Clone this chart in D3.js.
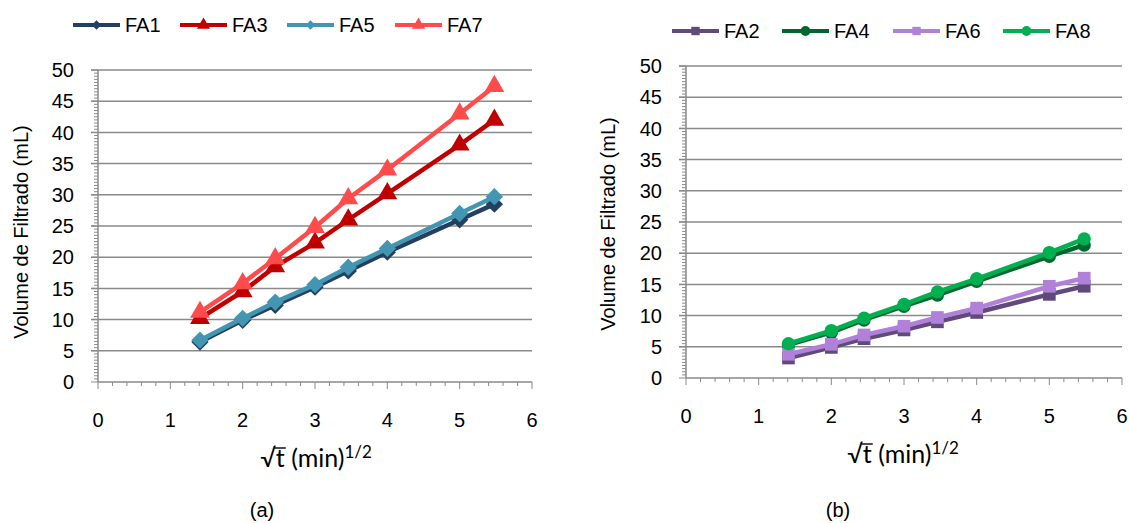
<!DOCTYPE html>
<html>
<head>
<meta charset="utf-8">
<script src="https://cdn.jsdelivr.net/npm/d3@7"></script>
<style>
  body { margin: 0; background: #fff; }
  svg { display: block; }
  text { font-family: "Liberation Sans", Arial, sans-serif; fill: #000; }
</style>
</head>
<body>
<script>
const width = 1129;
const height = 523;

// x = square root of time (min^1/2)
const sqrtT = [1.41, 2, 2.45, 3, 3.46, 4, 5, 5.48];

// panel (a)
const fa1 = [6.4, 9.9, 12.3, 15.2, 17.8, 20.8, 26.0, 28.5];
const fa3 = [10.2, 14.5, 18.5, 22.3, 26.0, 30.2, 38.0, 42.0];
const fa5 = [6.7, 10.2, 12.8, 15.6, 18.4, 21.4, 27.0, 29.7];
const fa7 = [11.2, 15.8, 19.8, 24.8, 29.4, 34.0, 43.0, 47.4];

// panel (b)
const fa2 = [3.2, 4.9, 6.3, 7.7, 9.0, 10.5, 13.4, 14.7];
const fa4 = [5.3, 7.3, 9.3, 11.5, 13.3, 15.5, 19.5, 21.3];
const fa6 = [3.8, 5.4, 6.9, 8.3, 9.7, 11.2, 14.7, 16.0];
const fa8 = [5.5, 7.6, 9.6, 11.8, 13.8, 15.9, 20.1, 22.3];

const xTicks = [0, 1, 2, 3, 4, 5, 6];
const yTicks = [0, 5, 10, 15, 20, 25, 30, 35, 40, 45, 50];

const svg = d3.select('body').append('svg')
  .attr('width', width)
  .attr('height', height);

const gridColor = '#8a8a8a';

function drawPanel(p) {
  const x = d3.scaleLinear().domain([0, 6]).range([p.left, p.right]);
  const y = d3.scaleLinear().domain([0, 50]).range([p.bottom, p.top]);
  const g = svg.append('g');

  // gridlines
  g.selectAll('.grid')
    .data(yTicks.filter(v => v > 0))
    .enter().append('line')
      .attr('x1', p.left - 7).attr('x2', p.right)
      .attr('y1', d => y(d)).attr('y2', d => y(d))
      .attr('stroke', gridColor)
      .attr('stroke-width', 1.5);

  // y axis: minor ticks every 0.5, major every 5
  const yAxis = g.append('g').attr('transform', `translate(${p.left},0)`);
  yAxis.selectAll('line.minor')
    .data(d3.range(0, 50.01, 0.5))
    .enter().append('line')
      .attr('x1', d => d % 5 === 0 ? -7 : -4).attr('x2', 0)
      .attr('y1', d => y(d)).attr('y2', d => y(d))
      .attr('stroke', gridColor)
      .attr('stroke-width', 1);
  yAxis.append('line')
    .attr('y1', p.top).attr('y2', p.bottom)
    .attr('stroke', gridColor).attr('stroke-width', 1.5);
  yAxis.selectAll('text')
    .data(yTicks)
    .enter().append('text')
      .attr('x', -24)
      .attr('y', d => y(d))
      .attr('dy', '0.36em')
      .attr('text-anchor', 'end')
      .style('font-size', '20px')
      .text(d => d);

  // x axis: minor ticks every 0.2
  const xAxis = g.append('g').attr('transform', `translate(0,${p.bottom})`);
  xAxis.selectAll('line.minor')
    .data(d3.range(0, 30.5, 1))
    .enter().append('line')
      .attr('x1', d => x(d / 5)).attr('x2', d => x(d / 5))
      .attr('y1', 0).attr('y2', d => d % 5 === 0 ? 7 : 4)
      .attr('stroke', gridColor)
      .attr('stroke-width', 1);
  xAxis.append('line')
    .attr('x1', p.left).attr('x2', p.right)
    .attr('stroke', gridColor).attr('stroke-width', 1.5);
  xAxis.selectAll('text')
    .data(xTicks)
    .enter().append('text')
      .attr('x', d => x(d))
      .attr('y', 45)
      .attr('text-anchor', 'middle')
      .style('font-size', '20px')
      .text(d => d);

  // axis titles
  g.append('text')
    .attr('transform', `translate(${p.yTitleX},${p.yTitleY}) rotate(-90)`)
    .attr('text-anchor', 'middle')
    .attr('dy', '0.36em')
    .style('font-size', '20px')
    .text('Volume de Filtrado (mL)');

  const titleY = p.bottom + 85;
  const xt = g.append('text')
    .attr('x', p.xTitleX)
    .attr('y', titleY)
    .attr('text-anchor', 'middle')
    .style('font-family', 'Lato, "Open Sans", sans-serif')
    .style('font-size', '25px');
  xt.append('tspan').text('√t');
  xt.append('tspan').text(' (min)');
  xt.append('tspan').attr('dy', -9).style('font-size', '17px').text('1/2');

  // bar over the t under the radical
  const node = xt.node();
  const r0 = node.getEndPositionOfChar(0);
  const r1 = node.getEndPositionOfChar(1);
  g.append('line')
    .attr('x1', r0.x - 1).attr('x2', r1.x + 1)
    .attr('y1', titleY - 19).attr('y2', titleY - 19)
    .attr('stroke', '#000')
    .attr('stroke-width', 1.4);

  g.append('text')
    .attr('x', p.capX)
    .attr('y', 517)
    .attr('text-anchor', 'middle')
    .style('font-size', '20px')
    .text(p.caption);

  // series
  const line = d3.line()
    .x((d, i) => x(sqrtT[i]))
    .y(d => y(d));

  p.series.forEach(s => {
    g.append('path')
      .datum(s.values)
      .attr('d', line)
      .attr('fill', 'none')
      .attr('stroke', s.color)
      .attr('stroke-width', 4.5)
      .attr('stroke-linejoin', 'round');
    g.selectAll(null)
      .data(s.values)
      .enter().append('path')
        .attr('d', d3.symbol().type(s.symbol).size(s.size))
        .attr('transform', (d, i) => `translate(${x(sqrtT[i])},${y(d)}) rotate(${s.rot || 0})`)
        .attr('fill', s.color);
  });

  // legend
  const leg = svg.append('g');
  p.series.forEach((s, i) => {
    const lx = p.legendX[i];
    const ly = p.legendY;
    leg.append('line')
      .attr('x1', lx).attr('x2', lx + 47)
      .attr('y1', ly).attr('y2', ly)
      .attr('stroke', s.color)
      .attr('stroke-width', 4);
    leg.append('path')
      .attr('d', d3.symbol().type(s.symbol).size(s.legendSize))
      .attr('transform', `translate(${lx + 23.5},${ly}) rotate(${s.rot || 0})`)
      .attr('fill', s.color);
    leg.append('text')
      .attr('x', lx + 52)
      .attr('y', ly)
      .attr('dy', '0.36em')
      .style('font-size', '20px')
      .text(s.name);
  });
}

drawPanel({
  left: 98, right: 532, top: 70, bottom: 382,
  yTitleX: 21, yTitleY: 232,
  xTitleX: 316, capX: 262, caption: '(a)',
  legendX: [73, 180, 287, 395], legendY: 25,
  series: [
    { name: 'FA1', values: fa1, color: '#243f60', symbol: d3.symbolSquare, size: 150, legendSize: 45, rot: 45 },
    { name: 'FA3', values: fa3, color: '#c00000', symbol: d3.symbolTriangle, size: 170, legendSize: 75 },
    { name: 'FA5', values: fa5, color: '#4396b2', symbol: d3.symbolSquare, size: 150, legendSize: 45, rot: 45 },
    { name: 'FA7', values: fa7, color: '#ff4b4b', symbol: d3.symbolTriangle, size: 170, legendSize: 75 }
  ]
});

drawPanel({
  left: 686, right: 1122, top: 66, bottom: 378,
  yTitleX: 608, yTitleY: 224,
  xTitleX: 903, capX: 838, caption: '(b)',
  legendX: [672, 782, 893, 1003], legendY: 31,
  series: [
    { name: 'FA2', values: fa2, color: '#604a7b', symbol: d3.symbolSquare, size: 160, legendSize: 70 },
    { name: 'FA4', values: fa4, color: '#00682f', symbol: d3.symbolCircle, size: 140, legendSize: 75 },
    { name: 'FA6', values: fa6, color: '#b180d8', symbol: d3.symbolSquare, size: 160, legendSize: 70 },
    { name: 'FA8', values: fa8, color: '#00b050', symbol: d3.symbolCircle, size: 140, legendSize: 75 }
  ]
});
</script>
</body>
</html>
